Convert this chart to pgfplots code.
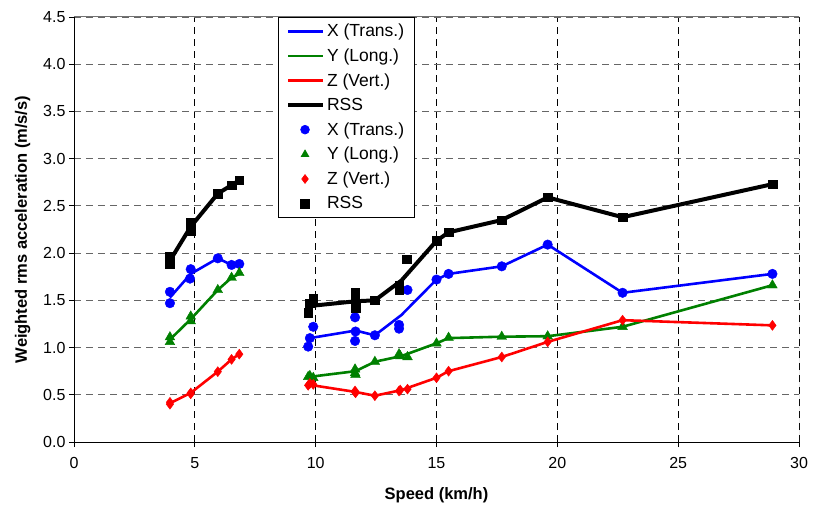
\documentclass[border=0pt]{standalone}
\usepackage{pgfplots}
\pgfplotsset{compat=1.18}
\usepackage{fontspec}
\setmainfont{Liberation Sans}
\definecolor{xblue}{RGB}{0,0,255}
\definecolor{ygreen}{RGB}{0,128,0}
\definecolor{zred}{RGB}{255,0,0}
\begin{document}
\begin{tikzpicture}
\useasboundingbox (-74pt,-67pt) rectangle (740pt,442pt);
\begin{axis}[
  at={(0pt,0pt)}, anchor=origin,
  scale only axis, width=725pt, height=425pt,
  xmin=0, xmax=30, ymin=0, ymax=4.5,
  xtick={0,5,...,30}, ytick={0,0.5,...,4.5},
  yticklabel style={/pgf/number format/.cd, fixed, fixed zerofill, precision=1},
  xticklabel style={yshift=-7pt},
  /pgf/number format/assume math mode=true,
  tick label style={font=\fontsize{16}{19}\selectfont},
  axis x line*=bottom, axis y line*=left,
  axis line style={-, black, line width=0.9pt},
  tick style={black, line width=0.8pt},
  tick align=outside, major tick length=5pt,
  xlabel={\textbf{Speed (km/h)}},
  ylabel={\textbf{Weighted rms acceleration (m/s/s)}},
  xlabel style={yshift=-12pt},
  ylabel style={yshift=6pt},
  label style={font=\fontsize{16.5}{19}\selectfont},
  grid=major,
  x grid style={black, line width=0.8pt, dash pattern=on 7pt off 5pt},
  y grid style={black!60, line width=0.8pt, dash pattern=on 7pt off 5pt},
  unbounded coords=jump,
  legend style={at={(0.281,1)}, anchor=north west, draw=black, line width=0.6pt,
    font=\fontsize{17.5}{20}\selectfont, cells={anchor=west}, inner xsep=8pt, inner ysep=5pt,
    row sep=6.5pt, fill=white},
  legend cell align=left,
  linelegend/.style={legend image code/.code={\draw[##1] (0pt,0pt) -- (35pt,0pt);}},
  marklegend/.style={legend image code/.code={\draw[mark repeat=2,mark phase=2,##1,mark size=4.4pt] plot coordinates {(0pt,0pt) (17pt,0pt) (34pt,0pt)};}},
]
% ---- lines (averages) ----
\addplot[xblue, line width=2.6pt, linelegend] coordinates {
 (3.97,1.53) (4.83,1.78) (5.95,1.945) (6.52,1.875) (6.84,1.885) (8,nan)
 (9.76,1.10) (11.65,1.18) (12.45,1.13) (13.55,1.345) (15.0,1.72) (15.5,1.78)
 (17.7,1.86) (19.6,2.09) (22.7,1.58) (28.9,1.78)};
\addlegendentry{X (Trans.)}
\addplot[ygreen, line width=2.6pt, linelegend] coordinates {
 (3.97,1.085) (4.83,1.30) (5.95,1.61) (6.52,1.74) (6.84,1.78) (8,nan)
 (9.76,0.69) (11.65,0.75) (12.45,0.85) (13.55,0.91) (15.0,1.045) (15.5,1.10)
 (17.7,1.115) (19.6,1.12) (22.7,1.22) (28.9,1.66)};
\addlegendentry{Y (Long.)}
\addplot[zred, line width=2.6pt, linelegend] coordinates {
 (3.97,0.41) (4.83,0.52) (5.95,0.745) (6.52,0.875) (6.84,0.93) (8,nan)
 (9.76,0.605) (11.65,0.53) (12.45,0.49) (13.55,0.55) (15.0,0.68) (15.5,0.75)
 (17.7,0.90) (19.6,1.06) (22.7,1.29) (28.9,1.235)};
\addlegendentry{Z (Vert.)}
\addplot[black, line width=4pt, linelegend] coordinates {
 (3.97,1.92) (4.83,2.28) (5.95,2.63) (6.52,2.72) (6.84,2.77) (8,nan)
 (9.76,1.44) (11.65,1.49) (12.45,1.50) (13.55,1.71) (15.0,2.13) (15.5,2.22)
 (17.7,2.35) (19.6,2.59) (22.7,2.38) (28.9,2.73)};
\addlegendentry{RSS}
% ---- individual runs ----
\addplot[only marks, mark=*, mark size=4.8pt, color=xblue, marklegend] coordinates {
 (3.97,1.59) (3.97,1.47) (4.83,1.83) (4.80,1.73) (5.95,1.945) (6.52,1.875) (6.84,1.885)
 (9.69,1.01) (9.76,1.10) (9.90,1.22) (11.63,1.32) (11.65,1.17) (11.63,1.07)
 (12.45,1.13) (13.45,1.24) (13.45,1.20) (13.80,1.61) (15.0,1.72) (15.5,1.78)
 (17.7,1.86) (19.6,2.09) (22.7,1.58) (28.9,1.78)};
\addlegendentry{X (Trans.)}
\addplot[only marks, mark=triangle*, mark size=5.6pt, color=ygreen, marklegend] coordinates {
 (3.97,1.11) (3.97,1.06) (4.83,1.33) (4.83,1.28) (5.95,1.61) (6.52,1.74) (6.84,1.79)
 (9.69,0.69) (9.76,0.70) (9.90,0.68) (11.63,0.77) (11.63,0.73) (11.65,0.71)
 (12.45,0.85) (13.45,0.93) (13.50,0.91) (13.80,0.90) (15.0,1.045) (15.5,1.105)
 (17.7,1.115) (19.6,1.12) (22.7,1.22) (28.9,1.66)};
\addlegendentry{Y (Long.)}
\addplot[only marks, mark=diamond*, mark size=5pt, color=zred, marklegend] coordinates {
 (3.97,0.42) (3.97,0.40) (4.83,0.52) (4.83,0.51) (5.95,0.745) (6.52,0.875) (6.84,0.93)
 (9.69,0.60) (9.76,0.62) (9.90,0.61) (11.63,0.54) (11.63,0.53) (11.65,0.52)
 (12.45,0.49) (13.45,0.54) (13.50,0.55) (13.80,0.56) (15.0,0.68) (15.5,0.75)
 (17.7,0.90) (19.6,1.06) (22.7,1.29) (28.9,1.235)};
\addlegendentry{Z (Vert.)}
\addplot[only marks, mark=square*, mark size=4.3pt, color=black, marklegend] coordinates {
 (3.97,1.96) (3.97,1.885) (4.83,2.32) (4.83,2.24) (5.95,2.63) (6.52,2.72) (6.84,2.77)
 (9.69,1.37) (9.76,1.47) (9.90,1.52) (11.63,1.58) (11.63,1.50) (11.65,1.42)
 (12.45,1.50) (13.45,1.66) (13.45,1.61) (13.76,1.935) (15.0,2.13) (15.5,2.22)
 (17.7,2.35) (19.6,2.59) (22.7,2.38) (28.9,2.73)};
\addlegendentry{RSS}
\draw[black!55, line width=1pt] (rel axis cs:0,1) -- (rel axis cs:1,1) -- (rel axis cs:1,0);
\end{axis}
\end{tikzpicture}
\end{document}
